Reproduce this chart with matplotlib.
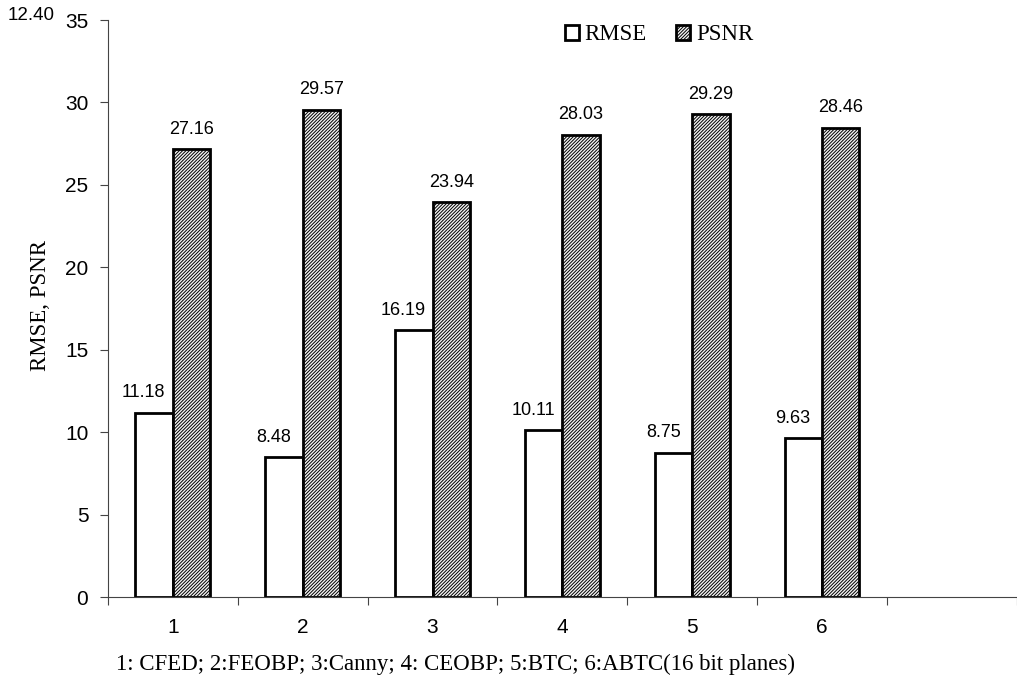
import matplotlib
matplotlib.use("Agg")
import matplotlib.pyplot as plt
import numpy as np

categories = ["1", "2", "3", "4", "5", "6"]
rmse = [11.18, 8.48, 16.19, 10.11, 8.75, 9.63]
psnr = [27.16, 29.57, 23.94, 28.03, 29.29, 28.46]

plt.rcParams['hatch.color'] = '#555555'
plt.rcParams['hatch.linewidth'] = 0.7

fig = plt.figure(figsize=(10.17, 6.81), dpi=100)
ax = fig.add_axes([0.106, 0.1233, 0.894, 0.8473])

x = np.arange(1, len(categories) + 1)
w = 0.287
ax.bar(x - w / 2, rmse, w, color='white', edgecolor='black', linewidth=2, label='RMSE')
ax.bar(x + w / 2, psnr, w, color='#f2f2f2', edgecolor='black', linewidth=2,
       hatch='/' * 10, label='PSNR')

for i in range(len(x)):
    ax.text(x[i] - w / 2 - 0.08, rmse[i] + 0.7, "%.2f" % rmse[i], ha='center', va='bottom',
            fontsize=13, family='Liberation Sans')
    ax.text(x[i] + w / 2, psnr[i] + 0.7, "%.2f" % psnr[i], ha='center', va='bottom',
            fontsize=13, family='Liberation Sans')

ax.set_xlim(0.5, 0.5 + 909 / 131)
ax.set_ylim(0, 35)
ax.set_yticks(range(0, 36, 5))
ax.set_xticks(np.arange(0.5, 7.6, 1))
ax.set_xticklabels([])
ax.set_xticks(x, minor=True)
ax.set_xticklabels(categories, minor=True, fontsize=15, family='Liberation Sans')
ax.tick_params(axis='x', which='minor', length=0, pad=15)
ax.tick_params(axis='x', which='major', length=6, direction='out', color='#444444')
ax.tick_params(axis='y', length=6, direction='out', color='#444444', labelsize=15, pad=8)
for lab in ax.get_yticklabels():
    lab.set_family('Liberation Sans')

ax.spines['top'].set_visible(False)
ax.spines['right'].set_visible(False)
ax.spines['left'].set_color('#444444')
ax.spines['bottom'].set_color('#444444')

ax.set_ylabel("RMSE, PSNR", fontsize=16.5, family='Liberation Serif')
ax.yaxis.set_label_coords(-(108 - 41) / 909, (597 - 305) / 577)
ax.set_xlabel("1: CFED; 2:FEOBP; 3:Canny; 4: CEOBP; 5:BTC; 6:ABTC(16 bit planes)",
              fontsize=16.5, family='Liberation Serif')
ax.xaxis.set_label_coords((456 - 108) / 909, -(664 - 597) / 577)
ax.xaxis.label.set_va('center')
ax.yaxis.label.set_va('center')

ax.legend(loc='upper left', bbox_to_anchor=(0.48, 1.028), ncol=2, frameon=False,
          prop={'family': 'Liberation Serif', 'size': 16.5}, handlelength=0.6,
          handleheight=0.6, handletextpad=0.25, columnspacing=1.3)

fig.text(8 / 1017, 1 - 16 / 681, "12.40", fontsize=13.5, family='Liberation Sans', va='center')

fig.savefig("out.png", dpi=100)
